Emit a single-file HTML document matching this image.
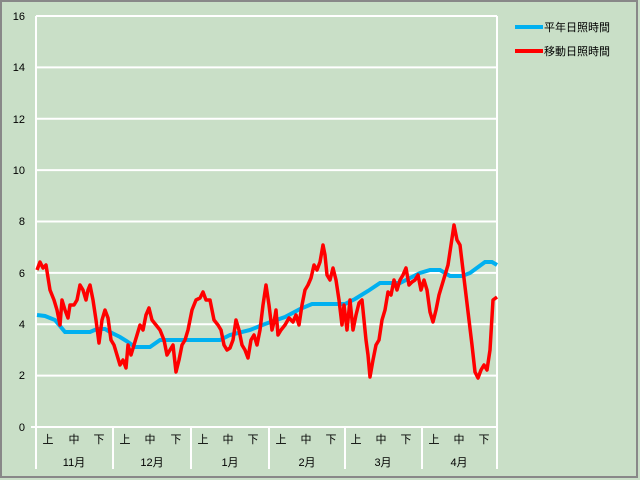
<!DOCTYPE html>
<html><head><meta charset="utf-8"><style>
body{margin:0;background:#fff}
svg{display:block}
text{font-family:"Liberation Sans","Noto Sans CJK JP",sans-serif;font-size:11px;fill:#000}
</style></head><body>
<svg width="640" height="480" xmlns="http://www.w3.org/2000/svg">
<rect x="0" y="0" width="640" height="480" fill="#c9dfc7"/>
<rect x="1" y="1" width="636" height="476" fill="none" stroke="#888" stroke-width="2"/>
<g stroke="#fff" stroke-width="2">
<line x1="36" y1="16" x2="497" y2="16"/>
<line x1="36" y1="67.4" x2="497" y2="67.4"/>
<line x1="36" y1="118.8" x2="497" y2="118.8"/>
<line x1="36" y1="170.1" x2="497" y2="170.1"/>
<line x1="36" y1="221.5" x2="497" y2="221.5"/>
<line x1="36" y1="272.9" x2="497" y2="272.9"/>
<line x1="36" y1="324.3" x2="497" y2="324.3"/>
<line x1="36" y1="375.6" x2="497" y2="375.6"/>
<line x1="31" y1="427" x2="497" y2="427"/>
<line x1="36" y1="16" x2="36" y2="469"/>
<line x1="497" y1="16" x2="497" y2="469"/>
<line x1="113" y1="427" x2="113" y2="469"/>
<line x1="191" y1="427" x2="191" y2="469"/>
<line x1="269" y1="427" x2="269" y2="469"/>
<line x1="345" y1="427" x2="345" y2="469"/>
<line x1="422" y1="427" x2="422" y2="469"/>
</g>
<g text-anchor="end">
<text x="25" y="20">16</text><text x="25" y="71">14</text><text x="25" y="123">12</text><text x="25" y="174">10</text>
<text x="25" y="225">8</text><text x="25" y="277">6</text><text x="25" y="328">4</text><text x="25" y="379">2</text><text x="25" y="431">0</text>
</g>
<g text-anchor="middle" font-size="11">
<text x="48" y="443">上</text><text x="74" y="443">中</text><text x="99" y="443">下</text>
<text x="125" y="443">上</text><text x="150" y="443">中</text><text x="176" y="443">下</text>
<text x="203" y="443">上</text><text x="228" y="443">中</text><text x="253" y="443">下</text>
<text x="281" y="443">上</text><text x="306" y="443">中</text><text x="331" y="443">下</text>
<text x="356" y="443">上</text><text x="381" y="443">中</text><text x="406" y="443">下</text>
<text x="434" y="443">上</text><text x="459" y="443">中</text><text x="484" y="443">下</text>
<text x="74" y="466">11月</text><text x="152" y="466">12月</text><text x="230" y="466">1月</text>
<text x="307" y="466">2月</text><text x="383" y="466">3月</text><text x="459" y="466">4月</text>
</g>
<polyline fill="none" stroke="#00b0f0" stroke-width="4" points="37,315 45,316 55,320 65,332 90,332 97,329 105,329 110,332 120,337 128,342 135,347 150,347 160,340 220,340 230,335 250,330 265,324 285,317 300,309 312,304 345,304 355,299 368,291 380,283 400,283 410,278 420,273 430,270 440,270 450,276 462,276 470,273 485,262 492,262 497,265"/>
<polyline fill="none" stroke="#f00" stroke-width="3.5" stroke-linejoin="round" points="37,270 40,262 43,268 46,265 50,290 54,300 57,310 60,325 62,300 65,310 68,318 70,305 74,305 77,300 80,285 83,290 86,300 88,290 90,285 93,300 96,320 99,343 102,320 105,310 108,318 111,340 114,345 117,355 120,365 123,360 126,368 128,345 131,355 134,345 137,335 140,325 143,330 146,315 149,308 152,320 156,325 160,330 164,340 167,355 170,350 173,345 176,372 179,360 182,345 185,340 188,330 192,310 196,300 200,298 203,292 206,300 210,300 214,320 218,325 221,330 224,345 227,350 230,348 233,340 236,320 239,330 242,345 245,350 248,358 251,340 254,335 257,345 260,330 263,305 266,285 269,305 272,330 274,322 276,310 278,335 281,330 285,325 289,318 293,322 296,315 299,325 302,305 305,290 308,285 311,278 314,265 317,270 320,262 323,245 325,255 327,275 330,280 333,268 336,280 339,300 342,325 344,305 347,330 350,300 353,330 356,315 359,303 362,300 364,320 366,340 368,355 370,377 373,360 376,345 379,340 382,320 385,310 388,292 391,295 394,280 397,290 400,280 403,275 406,268 409,285 412,282 415,280 418,275 421,290 424,280 427,290 430,312 433,322 436,310 439,295 442,285 445,275 448,265 451,245 454,225 457,240 460,245 463,270 466,295 469,320 472,345 475,372 478,378 481,370 484,365 487,370 490,350 493,300 497,297"/>
<line x1="515" y1="27" x2="543" y2="27" stroke="#00b0f0" stroke-width="4"/>
<line x1="515" y1="51" x2="543" y2="51" stroke="#f00" stroke-width="4"/>
<text x="544" y="31" font-size="12">平年日照時間</text>
<text x="544" y="55" font-size="12">移動日照時間</text>
</svg>
</body></html>
